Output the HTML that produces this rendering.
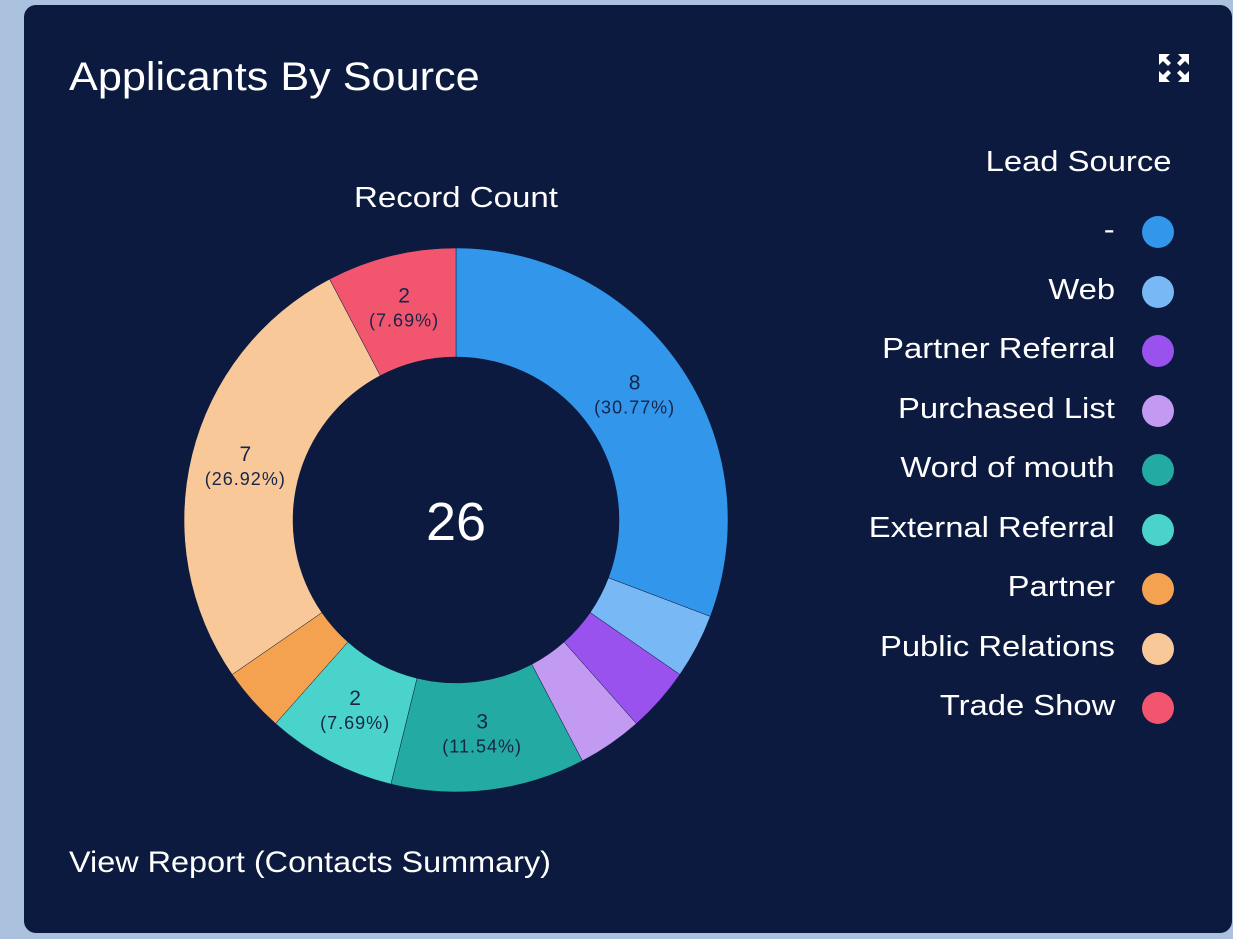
<!DOCTYPE html>
<html><head><meta charset="utf-8"><style>
html,body{margin:0;padding:0;width:1233px;height:939px;overflow:hidden;background:#aac2dd;font-family:"Liberation Sans",sans-serif;}
.card{position:absolute;left:24px;top:5px;width:1208px;height:928px;background:#0b1a3e;border-radius:12px;}
.t{position:absolute;color:#fff;white-space:nowrap;}
.r{transform:scaleX(1.13);transform-origin:right center;}
.l{transform-origin:left center;}
</style></head><body>
<div class="card"></div>
<div class="t l" style="left:69px;top:55px;font-size:40px;transform:scaleX(1.08);">Applicants By Source</div>
<svg style="position:absolute;left:1158px;top:53px" width="32" height="30" viewBox="0 0 32 30">
<g fill="#fff"><path d="M1 1h11l-4 4 5 5-3 3-5-5-4 4z"/><path d="M31 1h-11l4 4-5 5 3 3 5-5 4 4z"/><path d="M1 29h11l-4-4 5-5-3-3-5 5-4-4z"/><path d="M31 29h-11l4-4-5-5 3-3 5 5 4-4z"/></g></svg>
<div class="t l" style="left:354px;top:182px;font-size:29px;transform:scaleX(1.14);">Record Count</div>
<svg id="pie" style="position:absolute;left:0;top:0" width="1233" height="939"></svg>
<div class="t l" style="left:69px;top:846px;font-size:30px;transform:scaleX(1.08);">View Report (Contacts Summary)</div>
<div id="leg"></div>
<script>
var d=[["-",8,"#3296ea"],["Web",1,"#78b8f4"],["Partner Referral",1,"#9a52ef"],["Purchased List",1,"#c39af2"],["Word of mouth",3,"#23aaa2"],["External Referral",2,"#4ad3cb"],["Partner",1,"#f4a24f"],["Public Relations",7,"#f9c899"],["Trade Show",2,"#f2556e"]];
var cx=456,cy=520,R=272,r=163,a=0,s='';
function p(rad,ang){return [cx+rad*Math.sin(ang),cy-rad*Math.cos(ang)];}
d.forEach(function(e){var a0=a/26*2*Math.PI;a+=e[1];var a1=a/26*2*Math.PI;var l=(a1-a0)>Math.PI?1:0;
var A=p(R,a0),B=p(R,a1),C=p(r,a1),D=p(r,a0);
s+='<path d="M'+A+' A'+R+' '+R+' 0 '+l+' 1 '+B+' L'+C+' A'+r+' '+r+' 0 '+l+' 0 '+D+'Z" fill="'+e[2]+'" stroke="#0b1a3e" stroke-width="0.5"/>';
if(e[1]>1){var m=p(217,(a0+a1)/2);var pc=(e[1]/26*100).toFixed(2)+'%';
s+='<text x="'+m[0]+'" y="'+(m[1]-7)+'" text-anchor="middle" font-size="21" fill="#16254a" font-family="Liberation Sans">'+e[1]+'</text>';
s+='<text x="'+m[0]+'" y="'+(m[1]+17)+'" text-anchor="middle" font-size="18" letter-spacing="1" fill="#16254a" font-family="Liberation Sans">('+pc+')</text>';}
});
s+='<text x="456" y="540" text-anchor="middle" font-size="54" fill="#fff" font-family="Liberation Sans">26</text>';
document.getElementById('pie').innerHTML=s;
var h='<div class="t r" style="right:62px;top:146px;font-size:29px;">Lead Source</div>';
d.forEach(function(e,i){var y=231+i*59.5;
h+='<div class="t r" style="right:118px;top:'+(y-17)+'px;font-size:29px;">'+e[0]+'</div>';
h+='<div style="position:absolute;left:1142px;top:'+(y-15)+'px;width:32px;height:32px;border-radius:50%;background:'+e[2]+'"></div>';});
document.getElementById('leg').innerHTML=h;
</script>
</body></html>
